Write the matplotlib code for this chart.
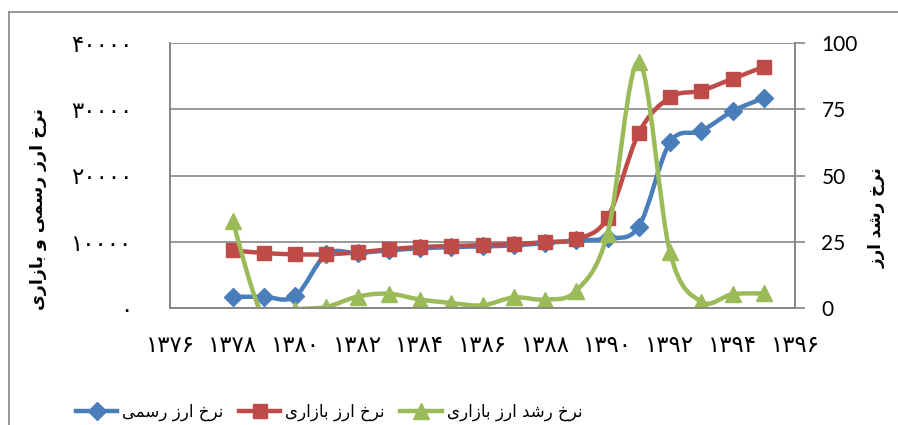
import matplotlib
matplotlib.use("Agg")
import matplotlib.pyplot as plt
from matplotlib.path import Path
from matplotlib.patches import PathPatch
from matplotlib.lines import Line2D
from matplotlib.ticker import FuncFormatter, MultipleLocator

years = [1378, 1379, 1380, 1381, 1382, 1383, 1384, 1385, 1386,
         1387, 1388, 1389, 1390, 1391, 1392, 1393, 1394, 1395]
official_rate = [1700, 1700, 1750, 8100, 8300, 8700, 9000, 9200, 9300,
                 9450, 9800, 10200, 10500, 12300, 25000, 26700, 29700, 31700]
market_rate = [8700, 8300, 8100, 8100, 8400, 8850, 9200, 9350, 9500,
               9650, 9950, 10400, 13600, 26400, 31800, 32800, 34600, 36400]
market_growth = [33, -3.5, -0.6, 0.4, 4.3, 5.4, 3.2, 1.9, 1.0,
                 4.0, 3.2, 6.5, 28, 93, 21, 2.4, 5.2, 5.5]

left_title = "نرخ ارز رسمی و بازاری"
right_title = "نرخ رشد ارز"
labels = ["نرخ ارز رسمی", "نرخ ارز بازاری", "نرخ رشد ارز بازاری"]

BLUE = "#4A7EBB"
RED = "#BE4B48"
GREEN = "#9BBB59"
GRID = "#868686"

# presentation forms: isolated, final, initial, medial
FORMS = {
    "ا": ("\uFE8D", "\uFE8E", None, None),
    "ب": ("\uFE8F", "\uFE90", "\uFE91", "\uFE92"),
    "خ": ("\uFEA5", "\uFEA6", "\uFEA7", "\uFEA8"),
    "د": ("\uFEA9", "\uFEAA", None, None),
    "ر": ("\uFEAD", "\uFEAE", None, None),
    "ز": ("\uFEAF", "\uFEB0", None, None),
    "س": ("\uFEB1", "\uFEB2", "\uFEB3", "\uFEB4"),
    "ش": ("\uFEB5", "\uFEB6", "\uFEB7", "\uFEB8"),
    "م": ("\uFEE1", "\uFEE2", "\uFEE3", "\uFEE4"),
    "ن": ("\uFEE5", "\uFEE6", "\uFEE7", "\uFEE8"),
    "و": ("\uFEED", "\uFEEE", None, None),
    "ی": ("\uFBFC", "\uFBFD", "\uFBFE", "\uFBFF"),
}


def shape(text):
    out = []
    for i, ch in enumerate(text):
        if ch not in FORMS:
            out.append(ch)
            continue
        prev = text[i - 1] if i > 0 else ""
        nxt = text[i + 1] if i < len(text) - 1 else ""
        join_prev = prev in FORMS and FORMS[prev][2] is not None
        join_next = FORMS[ch][2] is not None and nxt in FORMS
        f = FORMS[ch]
        if join_prev and join_next:
            out.append(f[3])
        elif join_prev:
            out.append(f[1])
        elif join_next:
            out.append(f[2])
        else:
            out.append(f[0])
    return "".join(reversed(out))


def fa_digits(s):
    return "".join(chr(0x06F0 + int(c)) if c.isdigit() else c for c in s)


def smooth_path(xs, ys):
    # excel-like smoothed line as cubic bezier
    verts = [(xs[0], ys[0])]
    codes = [Path.MOVETO]
    n = len(xs)
    for i in range(n - 1):
        x0, y0 = (xs[i - 1], ys[i - 1]) if i > 0 else (xs[i], ys[i])
        x1, y1 = xs[i], ys[i]
        x2, y2 = xs[i + 1], ys[i + 1]
        x3, y3 = (xs[i + 2], ys[i + 2]) if i + 2 < n else (x2, y2)
        c1 = (x1 + (x2 - x0) / 6, y1 + (y2 - y0) / 6)
        c2 = (x2 - (x3 - x1) / 6, y2 - (y3 - y1) / 6)
        verts += [c1, c2, (x2, y2)]
        codes += [Path.CURVE4] * 3
    return Path(verts, codes)


fa_font = "DejaVu Sans"

fig = plt.figure(figsize=(8.98, 4.25), dpi=100)
ax = fig.add_axes([170 / 898, 1 - 308 / 425, 625 / 898, 265 / 425])
ax2 = ax.twinx()

for vals, color, mk in [(official_rate, BLUE, "D"), (market_rate, RED, "s")]:
    ax.add_patch(PathPatch(smooth_path(years, vals), facecolor="none",
                           edgecolor=color, lw=3.2, capstyle="round"))
    ax.plot(years, vals, linestyle="none", marker=mk, color=color,
            markersize=10 if mk == "s" else 9.5)

ax2.add_patch(PathPatch(smooth_path(years, market_growth), facecolor="none",
                        edgecolor=GREEN, lw=3.2, capstyle="round"))
ax2.plot(years, market_growth, linestyle="none", marker="^", color=GREEN,
         markersize=11)

ax.set_xlim(1376, 1396)
ax.set_ylim(0, 40000)
ax2.set_ylim(0, 100)
ax.xaxis.set_major_locator(MultipleLocator(2))
ax.yaxis.set_major_locator(MultipleLocator(10000))
ax2.yaxis.set_major_locator(MultipleLocator(25))
ax.yaxis.grid(True, color=GRID, lw=1.2)
ax.set_axisbelow(True)

ax.xaxis.set_major_formatter(FuncFormatter(lambda v, p: fa_digits(str(int(round(v))))))
ax.yaxis.set_major_formatter(FuncFormatter(lambda v, p: fa_digits(str(int(round(v))))))

for a in (ax, ax2):
    for s in a.spines.values():
        s.set_color(GRID)
        s.set_linewidth(1.2)
ax.spines["top"].set_visible(False)
ax2.spines["top"].set_visible(False)

ax.tick_params(axis="x", length=0, pad=19, labelsize=16.5)
ax.tick_params(axis="y", length=0, pad=27, labelsize=16.5)
for lbl in ax.get_xticklabels() + ax.get_yticklabels():
    lbl.set_fontfamily(fa_font)
ax2.tick_params(axis="y", direction="out", length=7, width=1.2, color=GRID,
                pad=12, labelsize=15)
for lbl in ax2.get_yticklabels():
    lbl.set_fontfamily("Lato")

fig.text(38 / 898, 1 - 209 / 425, shape(left_title), rotation=90, ha="center",
         va="center", fontsize=12.5, fontweight="bold", family=fa_font)
fig.text(877 / 898, 1 - 218 / 425, shape(right_title), rotation=90, ha="center",
         va="center", fontsize=12, fontweight="bold", family=fa_font)

handles = [
    Line2D([], [], color=BLUE, lw=3.2, marker="D", markersize=9),
    Line2D([], [], color=RED, lw=3.2, marker="s", markersize=10),
    Line2D([], [], color=GREEN, lw=3.2, marker="^", markersize=11),
]
fig.legend(handles, [shape(t) for t in labels], loc="center",
           bbox_to_anchor=(329 / 898, 1 - 412 / 425), ncol=3, frameon=False,
           prop={"family": fa_font, "size": 12}, handlelength=2.5,
           handletextpad=0.3, columnspacing=0.9)

# outer chart border
fig.add_artist(Line2D([9 / 898, 9 / 898], [0, 1 - 12 / 425], transform=fig.transFigure,
                      color=GRID, lw=1.2))
fig.add_artist(Line2D([9 / 898, 1], [1 - 12 / 425, 1 - 12 / 425], transform=fig.transFigure,
                      color=GRID, lw=1.2))

fig.savefig("out.png", dpi=100)
